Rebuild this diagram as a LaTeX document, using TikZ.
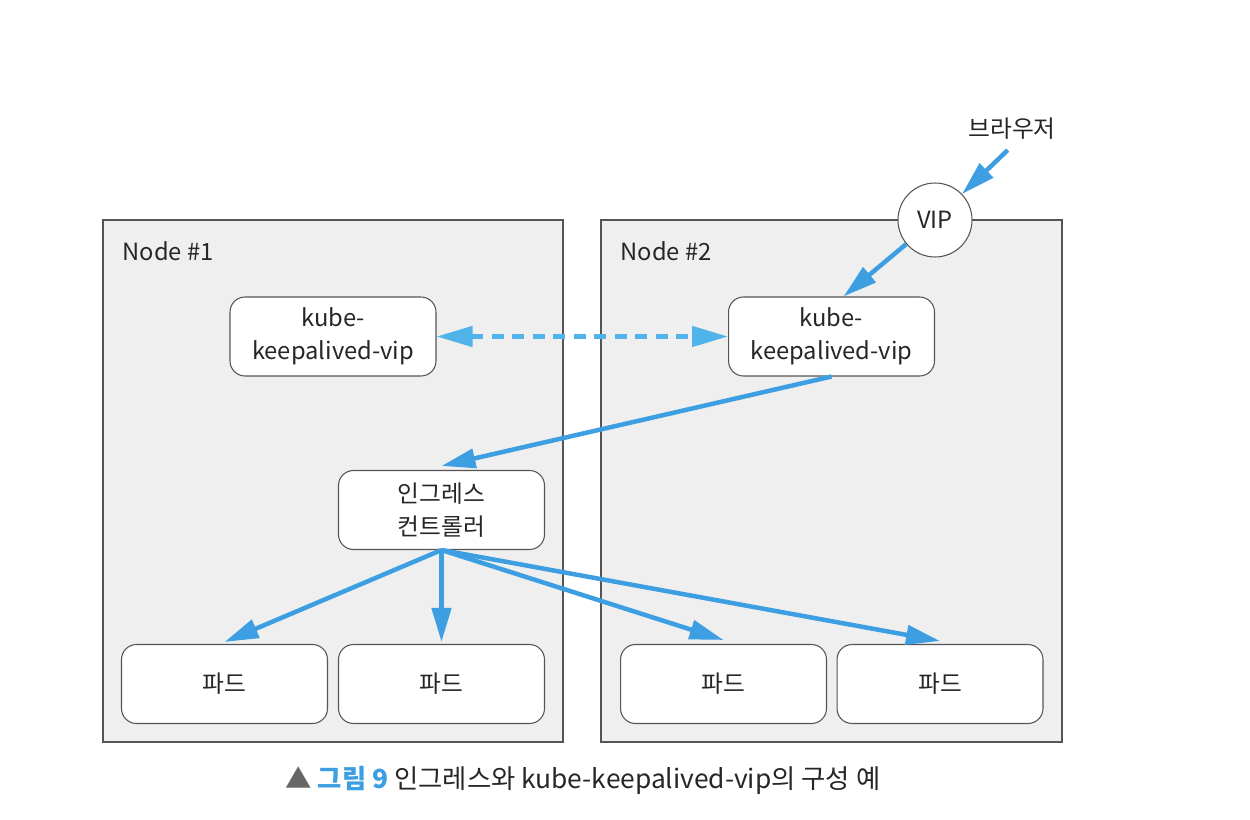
\documentclass[tikz,border=0pt]{standalone}
\usepackage{fontspec}
\setmainfont{Noto Sans CJK KR}
\usetikzlibrary{arrows.meta}

\definecolor{arrowblue}{HTML}{3D9FE2}
\definecolor{dashblue}{HTML}{50B4EA}
\definecolor{hostgray}{HTML}{EFEFEF}
\definecolor{linegray}{HTML}{555555}

\begin{document}
\begin{tikzpicture}[
		x=0.02cm, y=-0.02cm,
		% 모든 화살표의 공통 스타일
		vector/.style={-{Triangle[length=0.68cm,width=0.38cm]}, line width=0.09cm, arrowblue},
		dashvector/.style={{Triangle[length=0.72cm,width=0.4cm]}-{Triangle[length=0.72cm,width=0.4cm]}, line width=0.09cm, dashblue, dash pattern=on 0.24cm off 0.17cm},
		hostbox/.style={draw=linegray, fill=hostgray, line width=0.6pt},
		podbox/.style={draw=linegray, fill=white, line width=0.6pt, rounded corners=0.3cm,
			minimum width=4.12cm, minimum height=1.58cm, align=center, inner sep=0pt},
		every node/.style={font=\fontsize{13.5pt}{19pt}\selectfont, text=black!85}
		]
		
		\useasboundingbox (0,0) rectangle (1250,820);
		
		% ----- 1. 노드 영역 -----
		\draw[hostbox] (103,220) rectangle (563,742);
		\draw[hostbox] (601,220) rectangle (1062,742);
		\node (host1label) at (168,251) {Node \#1};
		\node (host2label) at (666,251) {Node \#2};
		
		% ----- 2. 박스 -----
		\node[podbox] (kube1) at (333,336.5) {kube-\\keepalived-vip};
		\node[podbox] (kube2) at (831.5,336.5) {kube-\\keepalived-vip};
		\node[podbox] (ingress) at (441.5,510) {인그레스\\컨트롤러};
		
		\node[podbox] (pod1) at (224.5,684) {파드};
		\node[podbox] (pod2) at (441.5,684) {파드};
		\node[podbox] (pod3) at (723.5,684) {파드};
		\node[podbox] (pod4) at (940,684) {파드};
		
		% VIP 와 브라우저
		\node[circle, draw=linegray, fill=white, line width=0.6pt, minimum size=1.48cm, inner sep=0pt] (vip) at (935,220) {VIP};
		\node (browser) at (1012,129) {브라우저};
		
		% ----- 3. 화살표 -----
		\draw[vector, shorten <=0.12cm] (browser.south) -- (vip);
		\draw[vector] (vip) -- ([xshift=0.24cm]kube2.north);
		\draw[dashvector] (kube1.east) -- (kube2.west);
		\draw[vector] (kube2.south) -- ([yshift=0.08cm]ingress.north);
		
		\draw[vector] (ingress.south) -- ([yshift=0.04cm]pod1.north);
		\draw[vector] (ingress.south) -- ([yshift=0.04cm]pod2.north);
		\draw[vector] (ingress.south) -- ([yshift=0.08cm]pod3.north);
		\draw[vector] (ingress.south) -- ([yshift=0.06cm]pod4.north);
		
		% ----- 4. 캡션 -----
		\node[font=\fontsize{15pt}{19pt}\selectfont] (caption) at (583,780) {{\color{black!60}▲} \textbf{\color{arrowblue}그림 9} 인그레스와 kube-keepalived-vip의 구성 예};
		
	\end{tikzpicture}
\end{document}
